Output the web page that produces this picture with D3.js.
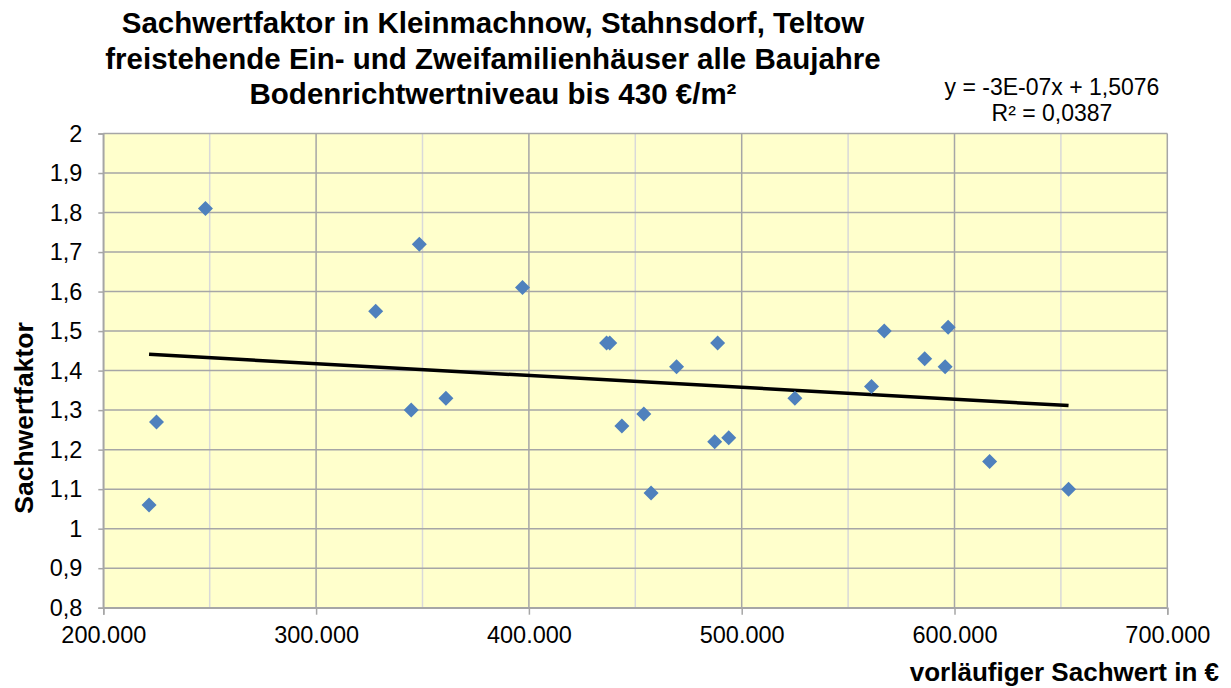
<!DOCTYPE html>
<html>
<head>
<meta charset="utf-8">
<script src="https://cdn.jsdelivr.net/npm/d3@7"></script>
<style>
  body { margin: 0; background: #fff; }
  svg { display: block; font-family: "Liberation Sans", Arial, sans-serif; }
</style>
</head>
<body>
<svg id="chart"></svg>
<script>
// Sachwert (EUR) and Sachwertfaktor
const sachwert = [221500, 225000, 248000, 328000, 348500, 344700, 361000, 397000,
  436500, 438000, 443700, 454000, 457400, 469400, 487300, 488700, 493900, 525000,
  561000, 567000, 586000, 595600, 597000, 616500, 653600];
const faktor = [1.06, 1.27, 1.81, 1.55, 1.72, 1.30, 1.33, 1.61,
  1.47, 1.47, 1.26, 1.29, 1.09, 1.41, 1.22, 1.47, 1.23, 1.33,
  1.36, 1.50, 1.43, 1.41, 1.51, 1.17, 1.10];

// linear trend as printed on the chart
const trendSlope = -3e-7;
const trendIntercept = 1.5076;

const titleLines = [
  "Sachwertfaktor in Kleinmachnow, Stahnsdorf, Teltow",
  "freistehende Ein- und Zweifamilienhäuser alle Baujahre",
  "Bodenrichtwertniveau bis 430 €/m²"
];
const equationLines = ["y = -3E-07x + 1,5076", "R² = 0,0387"];
const xTicks = [200000, 300000, 400000, 500000, 600000, 700000];
const xMinorTicks = [250000, 350000, 450000, 550000, 650000];
const yTicks = [0.8, 0.9, 1, 1.1, 1.2, 1.3, 1.4, 1.5, 1.6, 1.7, 1.8, 1.9, 2];

const w = 1231;
const h = 688;
const margin = { left: 103.3, right: 1231 - 1167.3, top: 133.5, bottom: 688 - 607.7 };

const de = d3.formatLocale({ decimal: ",", thousands: ".", grouping: [3], currency: ["", " €"] });
const fmtX = de.format(",.0f");
const fmtY = (d) => de.format(",")(+d.toFixed(1));

const svg = d3.select("#chart").attr("width", w).attr("height", h);

const data = sachwert.map((x, i) => ({ x: x, y: faktor[i] }));

const xScale = d3.scaleLinear().domain([200000, 700000]).range([margin.left, w - margin.right]);
const yScale = d3.scaleLinear().domain([0.8, 2]).range([h - margin.bottom, margin.top]);

// plot background
svg.append("rect")
  .attr("x", xScale(200000)).attr("y", yScale(2))
  .attr("width", xScale(700000) - xScale(200000))
  .attr("height", yScale(0.8) - yScale(2))
  .attr("fill", "#ffffcc");

// minor vertical gridlines
svg.append("g").selectAll("line").data(xMinorTicks).enter().append("line")
  .attr("x1", (d) => xScale(d)).attr("x2", (d) => xScale(d))
  .attr("y1", yScale(2)).attr("y2", yScale(0.8))
  .attr("stroke", "#d9d9d9").attr("stroke-width", 1.5);

// major gridlines
svg.append("g").selectAll("line").data(xTicks).enter().append("line")
  .attr("x1", (d) => xScale(d)).attr("x2", (d) => xScale(d))
  .attr("y1", yScale(2)).attr("y2", yScale(0.8))
  .attr("stroke", "#a6a6a6").attr("stroke-width", 1.5);

svg.append("g").selectAll("line").data(yTicks).enter().append("line")
  .attr("x1", xScale(200000)).attr("x2", xScale(700000))
  .attr("y1", (d) => yScale(d)).attr("y2", (d) => yScale(d))
  .attr("stroke", "#a6a6a6").attr("stroke-width", 1.5);

// axes
const xAxis = d3.axisBottom(xScale).tickValues(xTicks).tickFormat(fmtX).tickSize(7).tickPadding(12);
const yAxis = d3.axisLeft(yScale).tickValues(yTicks).tickFormat(fmtY).tickSize(5).tickPadding(16);

const gx = svg.append("g").attr("transform", `translate(0, ${yScale(0.8)})`).call(xAxis);
const gy = svg.append("g").attr("transform", `translate(${xScale(200000)}, 0)`).call(yAxis);

[gx, gy].forEach((g) => {
  g.select(".domain").attr("stroke", "#a6a6a6").attr("stroke-width", 1.5);
  g.selectAll(".tick line").attr("stroke", "#a6a6a6").attr("stroke-width", 1.5);
  g.selectAll(".tick text").attr("fill", "#000").style("font-size", "23.5px")
    .style("font-family", "'Liberation Sans', Arial, sans-serif");
});

// trend line over the range of the data
const ext = d3.extent(data, (d) => d.x);
svg.append("line")
  .attr("x1", xScale(ext[0])).attr("y1", yScale(trendIntercept + trendSlope * ext[0]))
  .attr("x2", xScale(ext[1])).attr("y2", yScale(trendIntercept + trendSlope * ext[1]))
  .attr("stroke", "#000").attr("stroke-width", 3.5);

// points
const r = 7.5;
svg.append("g").selectAll("path").data(data).enter().append("path")
  .attr("d", `M0,${-r}L${r},0L0,${r}L${-r},0Z`)
  .attr("transform", (d) => `translate(${xScale(d.x)}, ${yScale(d.y)})`)
  .attr("fill", "#4f81bd");

// title
svg.append("g").selectAll("text").data(titleLines).enter().append("text")
  .attr("x", 493).attr("y", (d, i) => 33 + i * 35.5)
  .attr("text-anchor", "middle")
  .style("font-size", "29.5px").style("font-weight", "bold")
  .text((d) => d);

// trend equation
svg.append("g").selectAll("text").data(equationLines).enter().append("text")
  .attr("x", 1052).attr("y", (d, i) => 95 + i * 26)
  .attr("text-anchor", "middle")
  .style("font-size", "23px")
  .text((d) => d);

// axis titles
svg.append("text")
  .attr("transform", "translate(33, 418) rotate(-90)")
  .attr("text-anchor", "middle")
  .style("font-size", "26.5px").style("font-weight", "bold")
  .text("Sachwertfaktor");

svg.append("text")
  .attr("x", 1219).attr("y", 681)
  .attr("text-anchor", "end")
  .style("font-size", "26px").style("font-weight", "bold")
  .text("vorläufiger Sachwert in €");
</script>
</body>
</html>
